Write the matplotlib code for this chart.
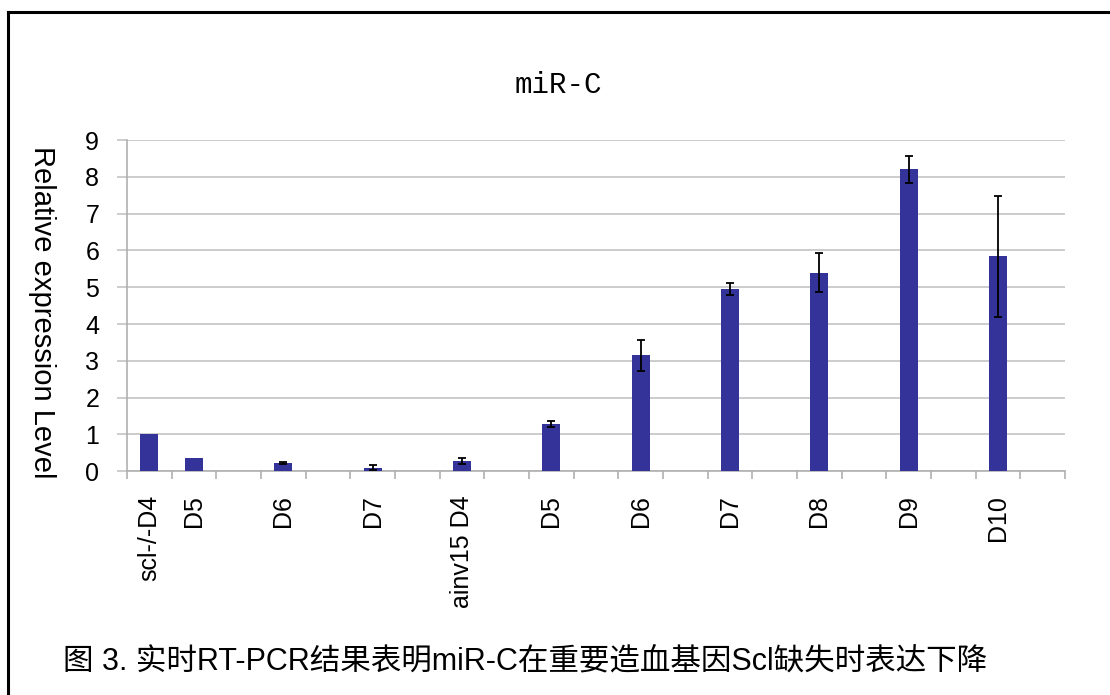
import numpy as np
import matplotlib
matplotlib.use("Agg")
import matplotlib.pyplot as plt
from matplotlib.lines import Line2D

# Relative expression of miR-C across differentiation days (blank slots separate the groups)
categories = ["scl-/-D4", "D5", "", "D6", "", "D7", "", "ainv15 D4", "", "D5", "",
              "D6", "", "D7", "", "D8", "", "D9", "", "D10", ""]
values = [1.00, 0.35, np.nan, 0.23, np.nan, 0.10, np.nan, 0.28, np.nan, 1.28, np.nan,
          3.15, np.nan, 4.95, np.nan, 5.39, np.nan, 8.20, np.nan, 5.84, np.nan]
errors = [0.00, 0.00, np.nan, 0.02, np.nan, 0.07, np.nan, 0.07, np.nan, 0.09, np.nan,
          0.42, np.nan, 0.17, np.nan, 0.53, np.nan, 0.36, np.nan, 1.64, np.nan]
y_ticks = list(range(0, 10))

title = "miR-C"
y_label = "Relative expression Level"
caption = "图 3. 实时RT-PCR结果表明miR-C在重要造血基因Scl缺失时表达下降"

W, H = 1110, 695
fig = plt.figure(figsize=(W / 100, H / 100), dpi=100)
fig.patch.set_facecolor("white")

ax = fig.add_axes([127 / W, 1 - 471.3 / H, (1065 - 127) / W, (471.3 - 140) / H])

x = np.arange(len(categories))
vals = np.array(values, dtype=float)
errs = np.array(errors, dtype=float)

ax.bar(x, vals, width=0.4, color="#333399", zorder=3)
has_err = np.nan_to_num(errs) > 0
ax.errorbar(x[has_err], vals[has_err], yerr=errs[has_err], fmt="none",
            ecolor="black", elinewidth=1.3, capsize=3, capthick=1.3, zorder=4)

grey = "#c4c4c4"
ax.set_xlim(-0.5, len(categories) - 0.5)
ax.set_ylim(0, 9)
ax.set_yticks(y_ticks)
ax.yaxis.grid(True, color=grey, linewidth=1.2, zorder=0)
ax.set_axisbelow(True)

for side in ("top", "right"):
    ax.spines[side].set_visible(False)
for side in ("left", "bottom"):
    ax.spines[side].set_color("#b0b0b0")
    ax.spines[side].set_linewidth(1.2)

tick_font = dict(family=["Liberation Sans", "DejaVu Sans"], size=18)
ax.set_xticks(x)
ax.set_xticklabels(categories, rotation=90, **tick_font)
ax.set_xticks(np.arange(-0.5, len(categories), 1.0), minor=True)
ax.tick_params(axis="x", which="major", length=0, pad=17, colors="black")
ax.tick_params(axis="x", which="minor", length=6, width=1.2, color="#b0b0b0")
ax.set_yticklabels([str(v) for v in y_ticks], **tick_font)
ax.tick_params(axis="y", which="major", length=7, width=1.2, color=grey,
               labelcolor="black", pad=13)

fig.text(42 / W, 1 - 312 / H, y_label, rotation=270, ha="center", va="center",
         family=["Liberation Sans", "DejaVu Sans"], size=21)

fig.text(558 / W, 1 - 85 / H, title, ha="center", va="center",
         family=["Liberation Mono", "DejaVu Sans Mono"], size=21)

fig.text(63 / W, 1 - 661 / H, caption, ha="left", va="center",
         family=["Liberation Sans", "Noto Sans CJK SC"], size=22)

# frame lines along the top and left edge
fig.add_artist(Line2D([7.5 / W, 1.0], [1 - 12 / H, 1 - 12 / H],
                      transform=fig.transFigure, color="black", linewidth=2.2))
fig.add_artist(Line2D([7.5 / W, 7.5 / W], [0.0, 1 - 12 / H],
                      transform=fig.transFigure, color="black", linewidth=2.2))

fig.savefig("out.png", dpi=100)
